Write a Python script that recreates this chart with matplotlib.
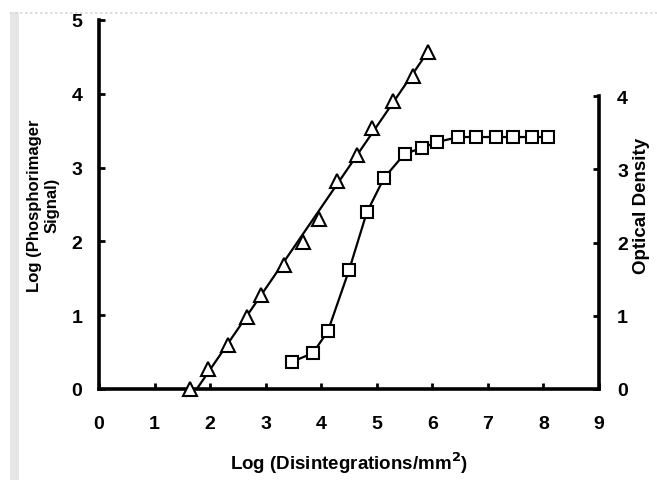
import numpy as np
import matplotlib.pyplot as plt
from matplotlib.patches import Rectangle
from matplotlib.lines import Line2D
plt.switch_backend('agg')

plt.rcParams['font.family'] = ['Liberation Sans', 'DejaVu Sans']
plt.rcParams['font.weight'] = 'bold'

# phosphorimager signal (left axis)
phos_x = [1.64, 1.96, 2.32, 2.66, 2.91, 3.33, 3.67, 3.96, 4.28, 4.64, 4.91, 5.29, 5.65, 5.92]
phos_y = [0.00, 0.27, 0.60, 0.98, 1.27, 1.68, 1.99, 2.30, 2.82, 3.17, 3.54, 3.90, 4.24, 4.57]
# fitted line drawn through the triangles
fit_x = [1.76, 5.92]
fit_y = [0.0, 4.57]

# optical density (right axis)
od_x = [3.47, 3.85, 4.12, 4.50, 4.82, 5.13, 5.50, 5.81, 6.08, 6.47, 6.78, 7.14, 7.46, 7.79, 8.09]
od_y = [0.37, 0.49, 0.79, 1.62, 2.41, 2.88, 3.21, 3.29, 3.37, 3.44, 3.44, 3.44, 3.44, 3.44, 3.44]

x_ticks = list(range(0, 10))
left_ticks = list(range(0, 6))
right_ticks = list(range(0, 5))

W, H = 657, 481
fig = plt.figure(figsize=(W / 100, H / 100), dpi=100)
fig.patch.set_facecolor('white')

# scan artefacts: grey strip on the left and dotted rule on top
fig.add_artist(Rectangle((10 / W, 0), 9 / W, 1 - 13 / H, transform=fig.transFigure,
                         facecolor='#e6e6e6', edgecolor='none'))
fig.add_artist(Line2D([10 / W, 1], [1 - 14 / H, 1 - 14 / H], transform=fig.transFigure,
                      color='#d8d8d8', lw=1.2, ls=(0, (1.5, 1.5))))

ax = fig.add_axes([99 / W, 91 / H, 500 / W, 369 / H])
ax2 = ax.twinx()

ax.plot(fit_x, fit_y, color='black', lw=1.6, zorder=2)
ax.plot(phos_x, phos_y, ls='none', marker='^', ms=9.5, mfc='white', mec='black',
        mew=1.5, zorder=3, clip_on=False)
ax2.plot(od_x, od_y, color='black', lw=1.6, marker='s', ms=9, mfc='white',
         mec='black', mew=1.5, clip_on=False)

ax.set_xlim(0, 9)
ax.set_ylim(0, 5)
ax2.set_ylim(0, 369 / 73.25)

ax.set_xticks(x_ticks)
ax.set_yticks(left_ticks)
ax2.set_yticks(right_ticks)

for a in (ax, ax2):
    a.spines['top'].set_visible(False)
    for s in a.spines.values():
        s.set_linewidth(2.6)
    a.patch.set_visible(False)
ax.spines['right'].set_visible(False)
ax2.spines['left'].set_visible(False)
ax2.spines['bottom'].set_visible(False)
ax.spines['left'].set_bounds(0, 5)
ax.spines['bottom'].set_bounds(0, 9)
ax2.spines['right'].set_bounds(0, 4)

ax.tick_params(axis='x', direction='in', length=4, width=2, pad=19, labelsize=14)
ax.tick_params(axis='y', direction='in', length=4, width=2, pad=12, labelsize=14)
ax2.tick_params(axis='y', direction='in', length=4, width=2, pad=13, labelsize=14)

ax.set_xlabel('Log (Disintegrations/mm$^{\\mathbf{2}}$)', fontsize=13.5, fontweight='bold', labelpad=12)
ax.set_ylabel('Log (Phosphorimager\nSignal)', fontsize=12, fontweight='bold', linespacing=1.25)
ax.yaxis.set_label_coords(-39 / 500, 0.5)
ax2.set_ylabel('Optical Density', fontsize=13.5, fontweight='bold', labelpad=4)

fig.savefig('out.png', dpi=100)
